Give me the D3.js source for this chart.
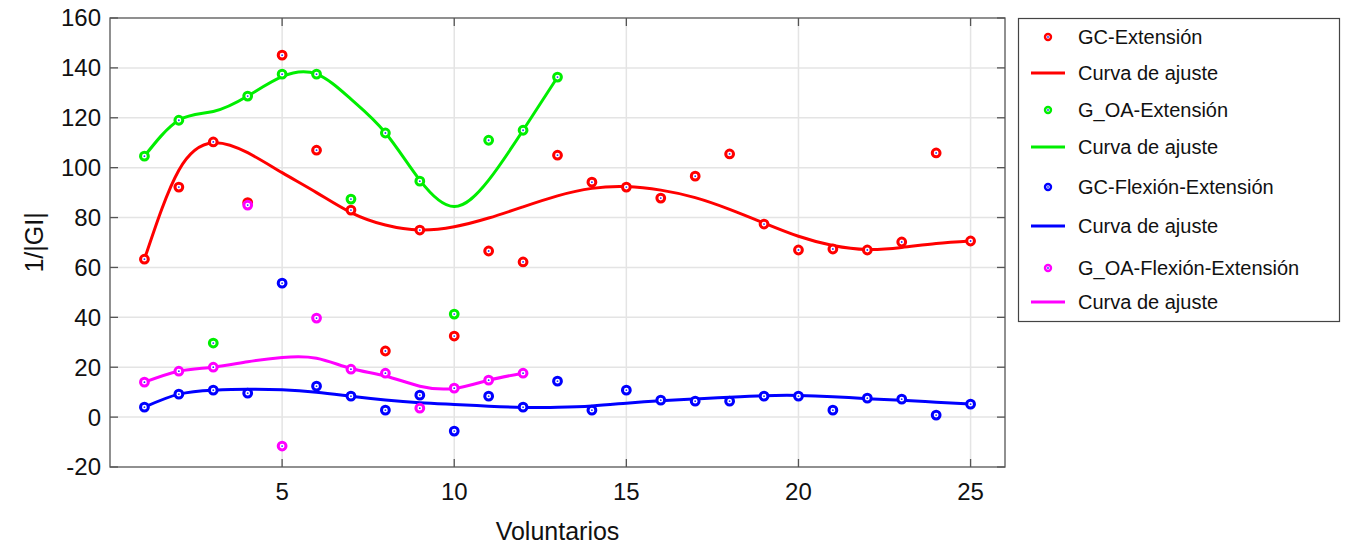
<!DOCTYPE html>
<html>
<head>
<meta charset="utf-8">
<script src="https://cdn.jsdelivr.net/npm/d3@7"></script>
<style>
  body { margin: 0; background: #fff; }
  text { font-family: "Liberation Sans", Arial, sans-serif; }
</style>
</head>
<body>
<div id="chart"></div>
<script>
const width = 1347;
const height = 549;
const margin = { top: 18, right: 342, bottom: 82, left: 110 };

// measured points (volunteer number -> 1/|GI|)
const gcExt = [63.3, 92.2, 110.3, 86, 145.1, 107, 83, 26.5, 75, 32.5, 66.6, 62.2, 105,
    94.2, 92.2, 87.8, 96.6, 105.5, 77.4, 67, 67.4, 67, 70.2, 105.9, 70.6];
const goaExt = [104.6, 119, 29.7, 128.7, 137.5, 137.5, 87.4, 113.9, 94.6, 41.3, 111, 115, 136.3];
const gcFlex = [4, 9.2, 10.8, 9.6, 53.7, 12.4, 8.4, 2.8, 8.8, -5.6, 8.4, 4, 14.4,
    2.8, 10.8, 6.8, 6.4, 6.4, 8.4, 8.4, 2.8, 7.6, 7.2, 0.8, 5.2];
const goaFlex = [14, 18.4, 20, 85, -11.6, 39.7, 19.2, 17.6, 3.6, 11.6, 14.8, 17.6];

// fitted curves, read at each volunteer
const gcExtFit = [63.3, 99, 110, 106, 98, 90, 82, 77, 75, 76.3, 79.8, 84.3, 88.7,
    91.7, 92.4, 91, 88, 83.3, 77.8, 72.5, 68.8, 67.2, 68, 69.6, 70.6];
const goaExtFit = [104.6, 119, 122.5, 128.7, 136.5, 137.5, 127.5, 114, 95, 84.4, 95, 115, 136.3];
const gcFlexFit = [4, 9.2, 10.8, 11.2, 11, 10, 8.4, 6.9, 5.8, 5.1, 4.4, 3.9, 4,
    4.5, 5.6, 6.6, 7.3, 8, 8.6, 8.7, 8.2, 7.4, 6.8, 6, 5.3];
const goaFlexFit = [14, 18.4, 20, 22.2, 23.9, 23.6, 19.5, 16.5, 12.4, 11.5, 14.8, 17.6];

const xTicks = [5, 10, 15, 20, 25];
const yTicks = [-20, 0, 20, 40, 60, 80, 100, 120, 140, 160];

const series = [
    { name: "GC-Extensión", color: "#ff0000", pts: gcExt, fit: gcExtFit },
    { name: "G_OA-Extensión", color: "#00ee00", pts: goaExt, fit: goaExtFit },
    { name: "GC-Flexión-Extensión", color: "#0000ff", pts: gcFlex, fit: gcFlexFit },
    { name: "G_OA-Flexión-Extensión", color: "#ff00ff", pts: goaFlex, fit: goaFlexFit }
];

const svg = d3.select("#chart")
    .append("svg")
        .attr("width", width)
        .attr("height", height);

const x = d3.scaleLinear().domain([0, 26]).range([margin.left, width - margin.right]);
const y = d3.scaleLinear().domain([-20, 160]).range([height - margin.bottom, margin.top]);

// grid
svg.append("g")
    .attr("stroke", "#e4e4e4")
    .attr("stroke-width", 1.5)
    .selectAll("line.gy")
    .data(yTicks.slice(1, -1))
    .enter().append("line")
        .attr("x1", x(0)).attr("x2", x(26))
        .attr("y1", d => y(d)).attr("y2", d => y(d));
svg.append("g")
    .attr("stroke", "#e4e4e4")
    .attr("stroke-width", 1.5)
    .selectAll("line.gx")
    .data(xTicks)
    .enter().append("line")
        .attr("x1", d => x(d)).attr("x2", d => x(d))
        .attr("y1", y(-20)).attr("y2", y(160));

// frame + inward ticks
const frame = svg.append("g").attr("stroke", "#555").attr("stroke-width", 1.3);
frame.append("rect")
    .attr("x", x(0)).attr("y", y(160))
    .attr("width", x(26) - x(0)).attr("height", y(-20) - y(160))
    .attr("fill", "none");
xTicks.forEach(t => {
    frame.append("line").attr("x1", x(t)).attr("x2", x(t)).attr("y1", y(-20)).attr("y2", y(-20) - 8);
    frame.append("line").attr("x1", x(t)).attr("x2", x(t)).attr("y1", y(160)).attr("y2", y(160) + 8);
});
yTicks.forEach(t => {
    frame.append("line").attr("x1", x(0)).attr("x2", x(0) + 8).attr("y1", y(t)).attr("y2", y(t));
    frame.append("line").attr("x1", x(26)).attr("x2", x(26) - 8).attr("y1", y(t)).attr("y2", y(t));
});

// tick labels
svg.append("g").selectAll("text")
    .data(xTicks)
    .enter().append("text")
        .attr("x", d => x(d))
        .attr("y", y(-20) + 33)
        .attr("text-anchor", "middle")
        .attr("font-size", 24)
        .attr("fill", "#111")
        .text(d => d);
svg.append("g").selectAll("text")
    .data(yTicks)
    .enter().append("text")
        .attr("x", x(0) - 9)
        .attr("y", d => y(d))
        .attr("dy", ".35em")
        .attr("text-anchor", "end")
        .attr("font-size", 24)
        .attr("fill", "#111")
        .text(d => d);

svg.append("text")
    .attr("x", (x(0) + x(26)) / 2)
    .attr("y", 540)
    .attr("text-anchor", "middle")
    .attr("font-size", 25)
    .attr("fill", "#111")
    .text("Voluntarios");
svg.append("text")
    .attr("transform", "translate(43," + ((y(-20) + y(160)) / 2) + ") rotate(-90)")
    .attr("text-anchor", "middle")
    .attr("font-size", 25)
    .attr("fill", "#111")
    .text("1/|GI|");

// curves
const line = d3.line()
    .x((d, i) => x(i + 1))
    .y(d => y(d))
    .curve(d3.curveNatural);

const plot = svg.append("g");
series.forEach(s => {
    plot.append("path")
        .attr("d", line(s.fit))
        .attr("fill", "none")
        .attr("stroke", s.color)
        .attr("stroke-width", 3);
});

// markers
function marker(g, cx, cy, color, r, sw) {
    g.append("circle")
        .attr("cx", cx).attr("cy", cy).attr("r", r)
        .attr("fill", "#fff")
        .attr("stroke", color)
        .attr("stroke-width", sw);
    g.append("circle")
        .attr("cx", cx).attr("cy", cy).attr("r", 0.9)
        .attr("fill", "#2233ff");
}
series.forEach(s => {
    s.pts.forEach((v, i) => marker(plot, x(i + 1), y(v), s.color, 3.9, 3));
});

// legend
const legend = svg.append("g");
legend.append("rect")
    .attr("x", 1018.5).attr("y", 18.5)
    .attr("width", 321).attr("height", 303)
    .attr("fill", "#fff")
    .attr("stroke", "#444")
    .attr("stroke-width", 1.2);

const legendRows = [37, 73, 110, 147, 187, 226, 268, 302];
series.forEach((s, i) => {
    const yp = legendRows[i * 2];
    const yl = legendRows[i * 2 + 1];
    marker(legend, 1048, yp, s.color, 3, 2.4);
    legend.append("text")
        .attr("x", 1078).attr("y", yp).attr("dy", ".35em")
        .attr("font-size", 20).attr("fill", "#111")
        .text(s.name);
    legend.append("line")
        .attr("x1", 1031).attr("x2", 1065)
        .attr("y1", yl).attr("y2", yl)
        .attr("stroke", s.color).attr("stroke-width", 3);
    legend.append("text")
        .attr("x", 1078).attr("y", yl).attr("dy", ".35em")
        .attr("font-size", 20).attr("fill", "#111")
        .text("Curva de ajuste");
});
</script>
</body>
</html>
